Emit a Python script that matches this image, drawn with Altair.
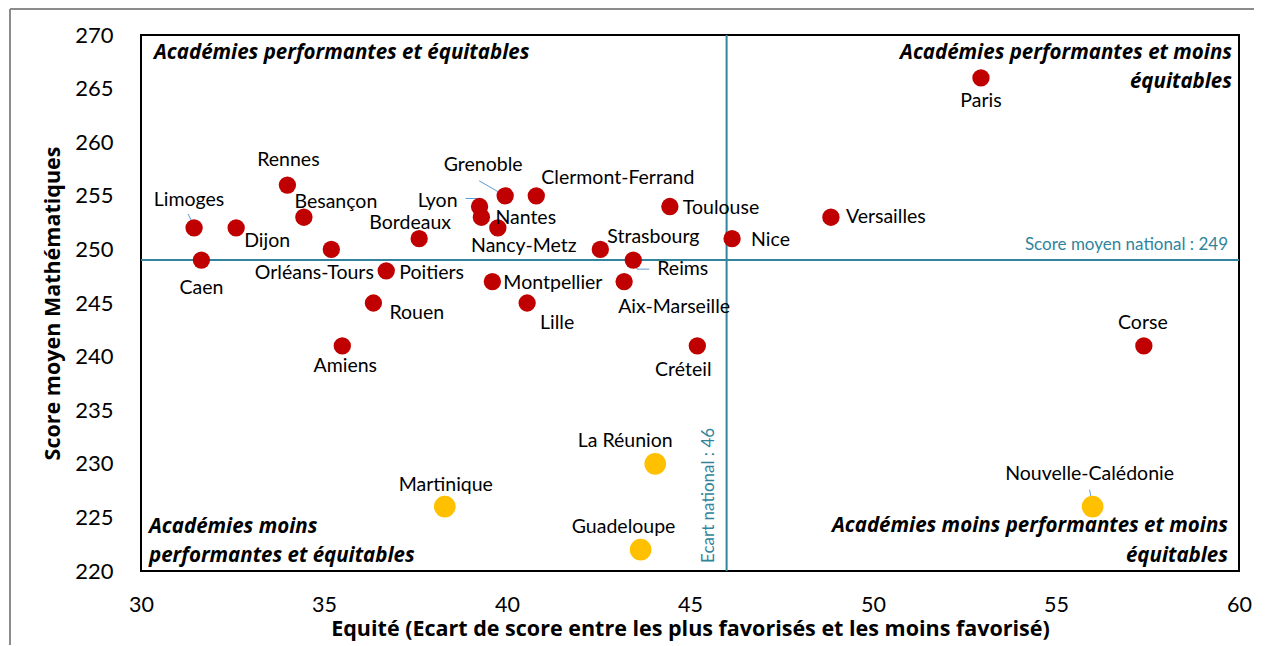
import altair as alt
import pandas as pd

# ---------------- data ----------------
NAMES = ["Paris", "Rennes", "Limoges", "Dijon", "Caen", "Besançon", "Orléans-Tours",
         "Poitiers", "Bordeaux", "Rouen", "Amiens", "Lyon", "Grenoble", "Nantes",
         "Nancy-Metz", "Clermont-Ferrand", "Toulouse", "Strasbourg", "Reims",
         "Montpellier", "Lille", "Aix-Marseille", "Créteil", "Nice", "Versailles",
         "Corse", "Nouvelle-Calédonie", "La Réunion", "Martinique", "Guadeloupe"]
EQUITE = [52.95, 34.0, 31.45, 32.6, 31.65, 34.45, 35.2,
          36.7, 37.6, 36.35, 35.5, 39.25, 39.95, 39.3,
          39.75, 40.8, 44.45, 42.55, 43.45,
          39.6, 40.55, 43.2, 45.2, 46.15, 48.85,
          57.4, 56.0, 44.05, 38.3, 43.65]
SCORE = [266, 256, 252, 252, 249, 253, 250,
         248, 251, 245, 241, 254, 255, 253,
         252, 255, 254, 250, 249,
         247, 245, 247, 241, 251, 253,
         241, 226, 230, 226, 222]
GROUP = ["metro"] * 26 + ["outre-mer"] * 4

NATIONAL_ECART = 46
NATIONAL_SCORE = 249

X_DOMAIN = [30, 60]
Y_DOMAIN = [220, 270]
X_TICKS = [30, 35, 40, 45, 50, 55, 60]
Y_TICKS = [220, 225, 230, 235, 240, 245, 250, 255, 260, 265, 270]

X_TITLE = "Equité (Ecart de score entre les plus favorisés et les moins favorisé)"
Y_TITLE = "Score moyen Mathématiques"
QUADRANTS = {
    "tl": ["Académies performantes et équitables"],
    "tr": ["Académies performantes et moins", "équitables"],
    "bl": ["Académies moins", "performantes et équitables"],
    "br": ["Académies moins performantes et moins", "équitables"],
}

# ---------------- layout / style ----------------
W, H = 1098, 536
PX_X = W / (X_DOMAIN[1] - X_DOMAIN[0])
PX_Y = H / (Y_DOMAIN[1] - Y_DOMAIN[0])
FONT = "Lato"
BOLD_FONT = "Open Sans"
TEAL = "#31849B"
RED = "#C00000"
GOLD = "#FFC000"
LEADER = "#5B9BD5"

# label placement: align, dx (px), dy (px, to text middle)
LABEL_PLACEMENT = {
    "Paris": ("center", 0, 23), "Rennes": ("center", 1, -25),
    "Limoges": ("center", -5, -28), "Dijon": ("left", 8, 13),
    "Caen": ("center", 0, 28), "Besançon": ("center", 32, -15),
    "Orléans-Tours": ("center", -17, 24), "Poitiers": ("left", 13, 2),
    "Bordeaux": ("center", -9, -16), "Rouen": ("left", 16, 10),
    "Amiens": ("center", 3, 20), "Lyon": ("right", -22, -6),
    "Grenoble": ("center", -22, -31), "Nantes": ("left", 14, 1),
    "Nancy-Metz": ("center", 26, 18), "Clermont-Ferrand": ("left", 5, -18),
    "Toulouse": ("left", 13, 1), "Strasbourg": ("left", 7, -12),
    "Reims": ("left", 24, 9), "Montpellier": ("left", 11, 1),
    "Lille": ("center", 30, 20), "Aix-Marseille": ("center", 50, 25),
    "Créteil": ("center", -14, 24), "Nice": ("left", 19, 1),
    "Versailles": ("left", 15, 0), "Corse": ("center", -1, -23),
    "Nouvelle-Calédonie": ("center", -3, -33), "La Réunion": ("center", -30, -23),
    "Martinique": ("center", 1, -22), "Guadeloupe": ("center", -17, -23),
}
# leader line polylines (px offsets from point)
LEADERS = {
    "Limoges": [(0, -2), (-6, -14)],
    "Lyon": [(0, 0), (-2, -8), (-14, -8)],
    "Grenoble": [(0, 0), (-26, -15)],
    "Reims": [(0, 0), (4, 9), (16, 9)],
    "Nouvelle-Calédonie": [(0, 0), (-3, -17)],
}

df = pd.DataFrame({"name": NAMES, "x": EQUITE, "y": SCORE, "group": GROUP})
df["align"] = [LABEL_PLACEMENT[n][0] for n in NAMES]
df["lx"] = [x + LABEL_PLACEMENT[n][1] / PX_X for n, x in zip(NAMES, EQUITE)]
df["ly"] = [y - LABEL_PLACEMENT[n][2] / PX_Y for n, y in zip(NAMES, SCORE)]

seg_rows = []
for n, pts in LEADERS.items():
    i = NAMES.index(n)
    for (a, b), (c, d) in zip(pts[:-1], pts[1:]):
        seg_rows.append({"x": EQUITE[i] + a / PX_X, "y": SCORE[i] - b / PX_Y,
                         "x2": EQUITE[i] + c / PX_X, "y2": SCORE[i] - d / PX_Y})
seg = pd.DataFrame(seg_rows)

xs = alt.Scale(domain=X_DOMAIN, nice=False, zero=False)
ys = alt.Scale(domain=Y_DOMAIN, nice=False, zero=False)
x_axis = alt.Axis(values=X_TICKS, title=X_TITLE, grid=False, ticks=False, domain=False,
                  labelFlush=False, labelOverlap=False,
                  labelFont=FONT, labelFontSize=21.5, labelColor="black", labelPadding=23,
                  titleFont=BOLD_FONT, titleFontSize=21.5, titleFontWeight="bold",
                  titleColor="black", titlePadding=3)
y_axis = alt.Axis(values=Y_TICKS, title=Y_TITLE, grid=False, ticks=False, domain=False,
                  labelFlush=False, labelOverlap=False,
                  labelFont=FONT, labelFontSize=22, labelColor="black", labelPadding=28,
                  titleFont=BOLD_FONT, titleFontSize=21.5, titleFontWeight="bold",
                  titleColor="black", titlePadding=10)


def X(field):
    return alt.X(field, type="quantitative", scale=xs, axis=x_axis)


def Y(field):
    return alt.Y(field, type="quantitative", scale=ys, axis=y_axis)


one = alt.Data(values=[{}])

# outer gray frame
frame_v = alt.Chart(one).mark_rule(color="#8C8C8C", strokeWidth=2).encode(
    x=alt.value(-131), y=alt.value(-26), y2=alt.value(H + 120))
frame_h = alt.Chart(one).mark_rule(color="#8C8C8C", strokeWidth=2).encode(
    x=alt.value(-131), x2=alt.value(W + 60), y=alt.value(-26))

ref_x = alt.Chart(pd.DataFrame({"x": [NATIONAL_ECART]})).mark_rule(
    color=TEAL, strokeWidth=2).encode(x=X("x"))
ref_y = alt.Chart(pd.DataFrame({"y": [NATIONAL_SCORE]})).mark_rule(
    color=TEAL, strokeWidth=2).encode(y=Y("y"))

ref_y_label = alt.Chart(pd.DataFrame({"y": [NATIONAL_SCORE]})).mark_text(
    align="right", baseline="middle", font=FONT, fontSize=17, color=TEAL, dy=-15
).encode(x=alt.value(W - 11), y=Y("y"),
         text=alt.value(f"Score moyen national : {NATIONAL_SCORE}"))

ref_x_label = alt.Chart(pd.DataFrame({"x": [NATIONAL_ECART]})).mark_text(
    align="left", baseline="bottom", angle=270, font=FONT, fontSize=17, color=TEAL, dy=-9
).encode(x=X("x"), y=alt.value(H - 8),
         text=alt.value(f"Ecart national : {NATIONAL_ECART}"))

leaders = alt.Chart(seg).mark_rule(color=LEADER, strokeWidth=1).encode(
    x=X("x"), y=Y("y"), x2="x2:Q", y2="y2:Q")

points = alt.Chart(df).mark_circle(opacity=1).encode(
    x=X("x"), y=Y("y"),
    color=alt.Color("group:N", scale=alt.Scale(domain=["metro", "outre-mer"], range=[RED, GOLD]),
                    legend=None),
    size=alt.Size("group:N", scale=alt.Scale(domain=["metro", "outre-mer"], range=[300, 470]),
                  legend=None),
)

label_layers = []
for al in ["left", "center", "right"]:
    label_layers.append(
        alt.Chart(df).transform_filter(alt.datum.align == al).mark_text(
            align=al, baseline="middle", font=FONT, fontSize=19.5, color="black"
        ).encode(x=X("lx"), y=Y("ly"), text="name:N"))


def qtext(txt, xpx, ypx, align):
    return alt.Chart(one).mark_text(
        align=align, baseline="middle", font=BOLD_FONT, fontSize=20.5, fontWeight="bold",
        fontStyle="italic", color="black"
    ).encode(x=alt.value(xpx), y=alt.value(ypx), text=alt.value(txt))


quad = [
    qtext(QUADRANTS["tl"][0], 13, 18, "left"),
    qtext(QUADRANTS["tr"][0], W - 7, 18, "right"),
    qtext(QUADRANTS["tr"][1], W - 7, 47, "right"),
    qtext(QUADRANTS["bl"][0], 8, 492, "left"),
    qtext(QUADRANTS["bl"][1], 8, 521, "left"),
    qtext(QUADRANTS["br"][0], W - 11, 491, "right"),
    qtext(QUADRANTS["br"][1], W - 11, 521, "right"),
]

chart = alt.layer(
    frame_v, frame_h, ref_x, ref_y, ref_y_label, ref_x_label, leaders, points,
    *label_layers, *quad
).properties(
    width=W, height=H,
    autosize=alt.AutoSizeParams(type="none"),
    padding={"left": 133, "top": 27, "right": 15, "bottom": 74},
    background="white",
).configure_view(stroke="black", strokeWidth=2)

chart.save("out.html", embed_options={"renderer": "svg", "actions": False})
